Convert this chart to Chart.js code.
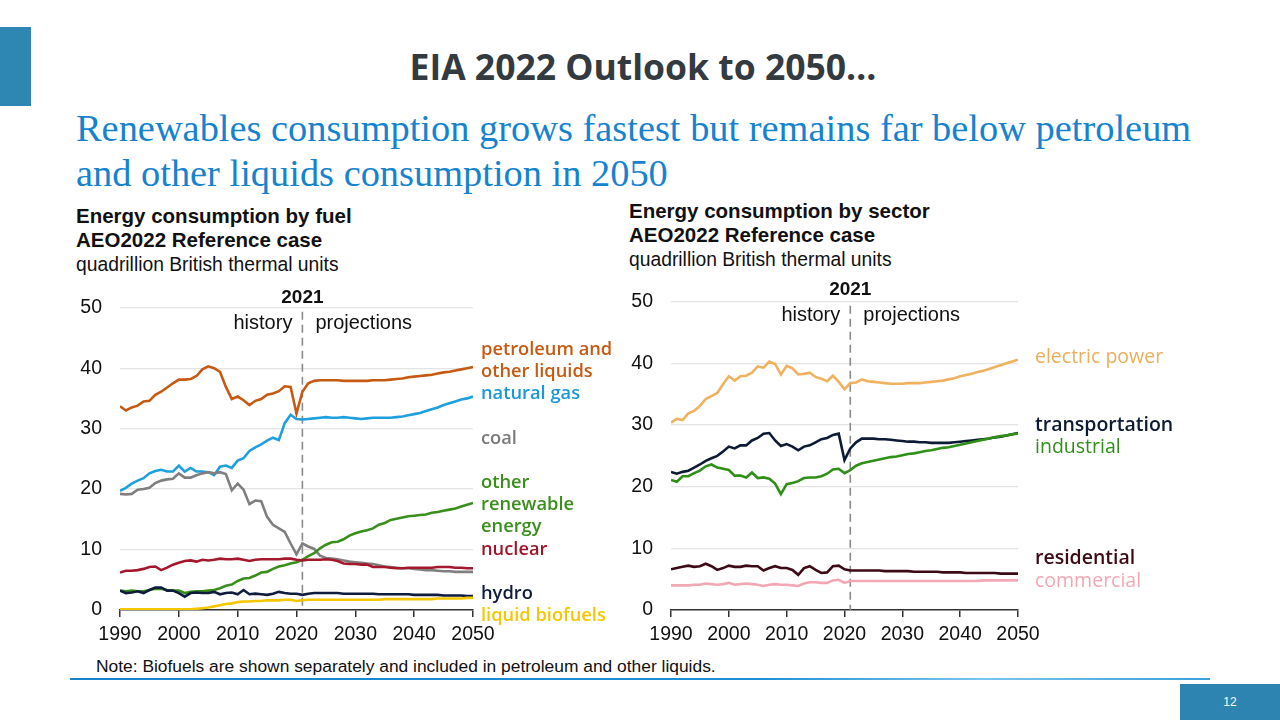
<!DOCTYPE html>
<html>
<head>
<meta charset="utf-8">
<script src="https://cdn.jsdelivr.net/npm/chart.js@4"></script>
<style>
  body { margin: 0; width: 1280px; height: 720px; background: #fff; position: relative; overflow: hidden; font-family: "Liberation Sans", Arial, sans-serif; }
  .abs { position: absolute; }
  #tab { left: 0; top: 27px; width: 31px; height: 79px; background: #2e86b3; }
  #title { left: 0; width: 1286px; top: 42px; text-align: center; font-family: "Open Sans", sans-serif; font-weight: 700; font-size: 35.5px; color: #333a40; }
  #sub { left: 76px; top: 106px; font-family: "Liberation Serif", "Times New Roman", serif; font-size: 38.4px; line-height: 45px; color: #1683cf; }
  .ct { font-size: 20.5px; line-height: 24px; color: #111; }
  .ct b { font-weight: 700; }
  .ct span { font-size: 19.3px; }
  #note { left: 96px; top: 656px; font-size: 17.4px; color: #111; }
  #rule { left: 70px; top: 678px; width: 1140px; height: 2px; background: linear-gradient(90deg, #1784cc 0%, #1b8fd6 60%, #7cc4ec 80%, #3aa0dc 100%); }
  #page { left: 1180px; top: 684px; width: 100px; height: 36px; background: #2e84b1; color: #fff; font-size: 12px; line-height: 36px; text-align: center; }
  canvas { position: absolute; }
</style>
</head>
<body>
<div class="abs" id="tab"></div>
<div class="abs" id="title">EIA 2022 Outlook to 2050…</div>
<div class="abs" id="sub">Renewables consumption grows fastest but remains far below petroleum<br>and other liquids consumption in 2050</div>
<div class="abs ct" style="left:76px;top:204px"><b>Energy consumption by fuel</b><br><b>AEO2022 Reference case</b><br><span>quadrillion British thermal units</span></div>
<div class="abs ct" style="left:629px;top:199px"><b>Energy consumption by sector</b><br><b>AEO2022 Reference case</b><br><span>quadrillion British thermal units</span></div>
<canvas id="fuelChart" width="590" height="372" style="left:40px;top:278px"></canvas>
<canvas id="sectorChart" width="590" height="378" style="left:590px;top:272px"></canvas>
<div class="abs" id="note">Note: Biofuels are shown separately and included in petroleum and other liquids.</div>
<div class="abs" id="rule"></div>
<div class="abs" id="page">12</div>
<script>
const years = [
  1990, 1991, 1992, 1993, 1994, 1995, 1996, 1997, 1998, 1999,
  2000, 2001, 2002, 2003, 2004, 2005, 2006, 2007, 2008, 2009,
  2010, 2011, 2012, 2013, 2014, 2015, 2016, 2017, 2018, 2019,
  2020, 2021, 2022, 2023, 2024, 2025, 2026, 2027, 2028, 2029,
  2030, 2031, 2032, 2033, 2034, 2035, 2036, 2037, 2038, 2039,
  2040, 2041, 2042, 2043, 2044, 2045, 2046, 2047, 2048, 2049,
  2050
];
const xTicks = [1990, 2000, 2010, 2020, 2030, 2040, 2050];
const yTicks = [0, 10, 20, 30, 40, 50];
const splitYear = 2021;

// energy consumption by fuel
const petroleum = [
  33.7, 33.0, 33.5, 33.8, 34.5, 34.6, 35.6, 36.1, 36.8, 37.5,
  38.1, 38.1, 38.2, 38.7, 39.8, 40.3, 40.0, 39.4, 36.9, 34.9,
  35.3, 34.7, 33.9, 34.6, 34.9, 35.6, 35.8, 36.2, 37.0, 36.9,
  32.5, 36.1, 37.5, 37.9, 38.0, 38.0, 38.0, 38.0, 37.9, 37.9,
  37.9, 37.9, 37.9, 38.0, 38.0, 38.0, 38.1, 38.2, 38.3, 38.5,
  38.6, 38.7, 38.8, 38.9, 39.1, 39.3, 39.4, 39.6, 39.8, 40.0,
  40.2
];
const naturalGas = [
  19.7, 20.2, 20.9, 21.4, 21.8, 22.6, 23.0, 23.2, 22.9, 22.9,
  23.9, 22.9, 23.5, 22.9, 22.9, 22.8, 22.3, 23.7, 23.9, 23.5,
  24.7, 25.1, 26.3, 26.9, 27.4, 28.0, 28.5, 28.1, 30.9, 32.3,
  31.6, 31.5, 31.6, 31.7, 31.8, 31.9, 31.8, 31.8, 31.9, 31.8,
  31.7, 31.6, 31.7, 31.8, 31.8, 31.8, 31.8, 31.9, 32.0, 32.2,
  32.4, 32.6, 32.9, 33.2, 33.5, 33.9, 34.2, 34.5, 34.8, 35.0,
  35.3
];
const coal = [
  19.2, 19.1, 19.2, 19.9, 20.0, 20.2, 21.0, 21.4, 21.6, 21.7,
  22.6, 21.9, 21.9, 22.3, 22.6, 22.8, 22.6, 22.8, 22.5, 19.8,
  20.9, 19.9, 17.5, 18.1, 18.0, 15.4, 14.1, 13.5, 12.9, 11.0,
  9.2, 11.0, 10.5, 10.1, 9.0, 8.6, 8.5, 8.4, 8.2, 8.0,
  7.9, 7.8, 7.7, 7.6, 7.4, 7.2, 7.1, 7.0, 6.9, 6.9,
  6.8, 6.7, 6.6, 6.6, 6.5, 6.4, 6.4, 6.3, 6.3, 6.3,
  6.3
];
const otherRenewable = [
  3.2, 3.1, 3.2, 3.1, 3.1, 3.3, 3.5, 3.5, 3.3, 3.2,
  3.2, 2.8, 3.0, 3.1, 3.1, 3.2, 3.3, 3.6, 4.0, 4.2,
  4.8, 5.2, 5.3, 5.7, 6.2, 6.3, 6.8, 7.2, 7.4, 7.7,
  7.9, 8.3, 8.9, 9.4, 10.2, 10.8, 11.2, 11.3, 11.7, 12.3,
  12.7, 13.0, 13.2, 13.5, 14.1, 14.4, 14.9, 15.1, 15.3, 15.5,
  15.6, 15.7, 15.8, 16.1, 16.2, 16.4, 16.6, 16.8, 17.1, 17.4,
  17.7
];
const nuclear = [
  6.2, 6.5, 6.5, 6.6, 6.8, 7.1, 7.2, 6.6, 7.0, 7.5,
  7.8, 8.1, 8.2, 8.0, 8.3, 8.2, 8.3, 8.5, 8.4, 8.4,
  8.5, 8.3, 8.1, 8.3, 8.4, 8.4, 8.4, 8.4, 8.5, 8.5,
  8.3, 8.2, 8.3, 8.3, 8.3, 8.4, 8.3, 8.1, 7.7, 7.6,
  7.6, 7.5, 7.5, 7.1, 7.1, 7.1, 7.0, 6.9, 6.9, 7.0,
  7.0, 7.0, 7.0, 7.0, 7.1, 7.1, 7.1, 7.0, 7.0, 6.9,
  6.9
];
const hydro = [
  3.2, 2.8, 2.9, 3.1, 2.8, 3.3, 3.7, 3.7, 3.2, 3.2,
  2.8, 2.2, 2.8, 2.9, 2.8, 2.8, 3.0, 2.6, 2.8, 2.9,
  2.6, 3.3, 2.6, 2.7, 2.6, 2.5, 2.7, 3.0, 2.8, 2.7,
  2.7, 2.5, 2.7, 2.8, 2.8, 2.8, 2.8, 2.8, 2.7, 2.7,
  2.7, 2.7, 2.7, 2.7, 2.6, 2.6, 2.6, 2.6, 2.6, 2.6,
  2.5, 2.5, 2.5, 2.5, 2.5, 2.4, 2.4, 2.4, 2.4, 2.3,
  2.3
];
const liquidBiofuels = [
  0.1, 0.1, 0.1, 0.1, 0.1, 0.1, 0.1, 0.1, 0.1, 0.1,
  0.1, 0.1, 0.1, 0.2, 0.3, 0.4, 0.6, 0.8, 1.0, 1.1,
  1.3, 1.4, 1.4, 1.5, 1.5, 1.6, 1.6, 1.6, 1.7, 1.7,
  1.5, 1.6, 1.7, 1.7, 1.7, 1.7, 1.7, 1.7, 1.7, 1.7,
  1.7, 1.7, 1.7, 1.7, 1.7, 1.8, 1.8, 1.8, 1.8, 1.8,
  1.8, 1.8, 1.8, 1.8, 1.9, 1.9, 1.9, 1.9, 1.9, 2.0,
  2.0
];

// energy consumption by sector
const electricPower = [
  30.4, 31.0, 30.8, 31.9, 32.3, 33.1, 34.2, 34.7, 35.2, 36.6,
  37.9, 37.2, 37.9, 38.0, 38.5, 39.5, 39.3, 40.3, 39.9, 38.2,
  39.6, 39.2, 38.2, 38.3, 38.5, 37.8, 37.5, 37.1, 38.0, 37.0,
  35.8, 36.8, 36.9, 37.4, 37.1, 37.0, 36.9, 36.8, 36.7, 36.7,
  36.7, 36.8, 36.8, 36.8, 36.9, 37.0, 37.1, 37.2, 37.4, 37.6,
  37.9, 38.1, 38.3, 38.6, 38.8, 39.1, 39.4, 39.7, 40.0, 40.3,
  40.6
];
const transportation = [
  22.4, 22.1, 22.4, 22.6, 23.1, 23.6, 24.2, 24.6, 25.0, 25.7,
  26.5, 26.2, 26.7, 26.7, 27.5, 27.9, 28.6, 28.7, 27.5, 26.6,
  26.9, 26.5, 25.9, 26.5, 26.7, 27.2, 27.7, 27.9, 28.4, 28.6,
  24.3, 26.2, 27.2, 27.8, 27.8, 27.8, 27.7, 27.7, 27.6, 27.5,
  27.4, 27.3, 27.3, 27.2, 27.2, 27.1, 27.1, 27.1, 27.1, 27.2,
  27.3, 27.4, 27.5, 27.6, 27.7, 27.8, 28.0, 28.1, 28.3, 28.5,
  28.7
];
const industrial = [
  21.1, 20.8, 21.7, 21.7, 22.2, 22.6, 23.3, 23.6, 23.1, 22.9,
  22.7, 21.8, 21.8, 21.5, 22.3, 21.4, 21.5, 21.3, 20.5, 18.8,
  20.4, 20.6, 20.9, 21.4, 21.5, 21.5, 21.7, 22.1, 22.8, 22.9,
  22.2, 22.7, 23.4, 23.8, 24.0, 24.2, 24.4, 24.6, 24.8, 24.9,
  25.1, 25.3, 25.4, 25.6, 25.8, 25.9, 26.1, 26.3, 26.4, 26.6,
  26.8, 27.0, 27.2, 27.4, 27.6, 27.8, 28.0, 28.2, 28.3, 28.5,
  28.6
];
const residential = [
  6.6, 6.8, 7.0, 7.2, 7.0, 7.1, 7.5, 7.1, 6.5, 6.8,
  7.2, 7.0, 7.0, 7.2, 7.1, 7.1, 6.4, 6.8, 7.1, 6.8,
  6.8, 6.5, 5.7, 6.8, 7.1, 6.5, 6.0, 6.1, 7.1, 7.2,
  6.6, 6.4, 6.4, 6.4, 6.4, 6.4, 6.4, 6.3, 6.3, 6.3,
  6.3, 6.3, 6.2, 6.2, 6.2, 6.2, 6.2, 6.1, 6.1, 6.1,
  6.1, 6.0, 6.0, 6.0, 6.0, 6.0, 6.0, 5.9, 5.9, 5.9,
  5.9
];
const commercial = [
  4.0, 4.0, 4.0, 4.0, 4.1, 4.1, 4.3, 4.2, 4.1, 4.2,
  4.4, 4.1, 4.2, 4.3, 4.2, 4.1, 3.9, 4.1, 4.2, 4.1,
  4.1, 4.0, 3.9, 4.3, 4.5, 4.5, 4.4, 4.4, 4.8, 4.9,
  4.4, 4.7, 4.7, 4.7, 4.7, 4.7, 4.7, 4.7, 4.7, 4.7,
  4.7, 4.7, 4.7, 4.7, 4.7, 4.7, 4.7, 4.7, 4.7, 4.7,
  4.7, 4.7, 4.7, 4.7, 4.8, 4.8, 4.8, 4.8, 4.8, 4.8,
  4.8
];

function toPoints(values) {
  return values.map((v, i) => ({ x: years[i], y: v }));
}

function line(label, values, color) {
  return {
    label: label,
    data: toPoints(values),
    borderColor: color,
    backgroundColor: color,
    borderWidth: 2.6,
    pointRadius: 0,
    tension: 0
  };
}

// dashed 2021 divider with its text, plus the end labels right of the plot
const annotate = {
  id: 'annotate',
  beforeDatasetsDraw(chart) {
    const ctx = chart.ctx;
    const area = chart.chartArea;
    const x = chart.scales.x.getPixelForValue(splitYear);
    ctx.save();
    ctx.strokeStyle = '#8a8a8a';
    ctx.lineWidth = 1.6;
    ctx.setLineDash([8, 5]);
    ctx.beginPath();
    ctx.moveTo(x, area.top + 4);
    ctx.lineTo(x, area.bottom);
    ctx.stroke();
    ctx.restore();
  },
  afterDatasetsDraw(chart, args, opts) {
    const ctx = chart.ctx;
    const area = chart.chartArea;
    const x = chart.scales.x.getPixelForValue(splitYear);
    const y = chart.scales.y;
    ctx.save();
    ctx.textBaseline = 'middle';
    ctx.fillStyle = '#111';
    ctx.font = 'bold 19px "Liberation Sans", Arial';
    ctx.textAlign = 'center';
    ctx.fillText(String(splitYear), x, area.top - opts.yearGap);
    ctx.font = '20px "Liberation Sans", Arial';
    ctx.textAlign = 'right';
    ctx.fillText('history', x - 10, area.top + opts.splitGap);
    ctx.textAlign = 'left';
    ctx.fillText('projections', x + 13, area.top + opts.splitGap);
    opts.labels.forEach(l => {
      ctx.font = (l.bold ? '600 ' : '500 ') + opts.labelSize + 'px "Open Sans", Arial';
      ctx.fillStyle = l.color;
      ctx.fillText(l.text, area.right + opts.labelGap, y.getPixelForValue(l.at));
    });
    ctx.restore();
  }
};

function options(yAxisWidth, rightPad, annot) {
  return {
    responsive: false,
    animation: false,
    layout: { padding: { top: 25, right: rightPad, left: 0, bottom: 0 } },
    plugins: { legend: { display: false }, tooltip: { enabled: false }, annotate: annot },
    scales: {
      x: {
        type: 'linear',
        min: 1990,
        max: 2050,
        afterBuildTicks: s => { s.ticks = xTicks.map(v => ({ value: v })); },
        afterFit: s => { s.height = 40; },
        ticks: {
          color: '#111',
          font: { size: 19.5, family: '"Liberation Sans", Arial' },
          padding: 6,
          maxRotation: 0,
          autoSkip: false,
          callback: v => String(v)
        },
        grid: { drawOnChartArea: false, drawTicks: true, tickLength: 7, color: '#333', lineWidth: 1.5 },
        border: { display: true, color: '#333', width: 1.5 }
      },
      y: {
        min: 0,
        max: 50,
        afterBuildTicks: s => { s.ticks = yTicks.map(v => ({ value: v })); },
        afterFit: s => { s.width = yAxisWidth; },
        ticks: { color: '#111', font: { size: 19.5, family: '"Liberation Sans", Arial' }, padding: 18 },
        grid: { color: '#e4e4e4', lineWidth: 1.2, drawTicks: false },
        border: { display: false }
      }
    }
  };
}

new Chart(document.getElementById('fuelChart'), {
  type: 'line',
  data: {
    datasets: [
      line('liquid biofuels', liquidBiofuels, '#f5c700'),
      line('hydro', hydro, '#101c3d'),
      line('nuclear', nuclear, '#a3182c'),
      line('other renewable energy', otherRenewable, '#3a8f1c'),
      line('coal', coal, '#7f7f7f'),
      line('natural gas', naturalGas, '#1ea0de'),
      line('petroleum and other liquids', petroleum, '#c65a12')
    ]
  },
  options: options(80, 157, {
    yearGap: 10, splitGap: 16, labelGap: 8, labelSize: 18.3,
    labels: [
      { text: 'petroleum and', at: 43.0, color: '#c65a12', bold: true },
      { text: 'other liquids', at: 39.4, color: '#c65a12', bold: true },
      { text: 'natural gas', at: 35.8, color: '#1a98d8', bold: true },
      { text: 'coal', at: 28.3, color: '#7a7a7a', bold: true },
      { text: 'other', at: 21.0, color: '#3a8f1c', bold: true },
      { text: 'renewable', at: 17.4, color: '#3a8f1c', bold: true },
      { text: 'energy', at: 13.7, color: '#3a8f1c', bold: true },
      { text: 'nuclear', at: 9.9, color: '#9e1529', bold: true },
      { text: 'hydro', at: 2.6, color: '#101c3d', bold: true },
      { text: 'liquid biofuels', at: -1.0, color: '#f5c700', bold: true }
    ]
  }),
  plugins: [annotate]
});

new Chart(document.getElementById('sectorChart'), {
  type: 'line',
  data: {
    datasets: [
      line('commercial', commercial, '#f2a8b4'),
      line('residential', residential, '#3d0b16'),
      line('industrial', industrial, '#2f8f17'),
      line('transportation', transportation, '#0d1a33'),
      line('electric power', electricPower, '#f0b25e')
    ]
  },
  options: options(81, 162, {
    yearGap: 12, splitGap: 14, labelGap: 17, labelSize: 19.5,
    labels: [
      { text: 'electric power', at: 40.9, color: '#eeae5a', bold: false },
      { text: 'transportation', at: 30.0, color: '#0d1a33', bold: true },
      { text: 'industrial', at: 26.4, color: '#2f8f17', bold: false },
      { text: 'residential', at: 8.3, color: '#3d0b16', bold: true },
      { text: 'commercial', at: 4.6, color: '#f2a8b4', bold: false }
    ]
  }),
  plugins: [annotate]
});
</script>
</body>
</html>
